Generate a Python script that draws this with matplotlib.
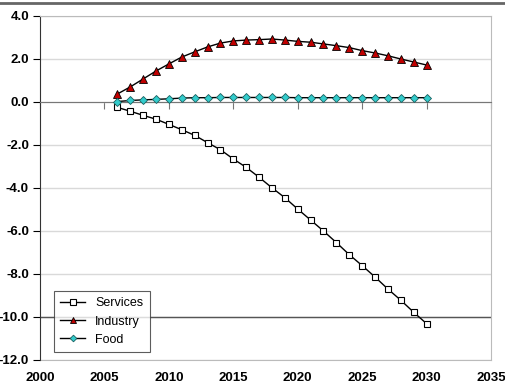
import numpy as np
import matplotlib.pyplot as plt
from matplotlib.lines import Line2D

plt.rcParams['font.family'] = ['Liberation Sans', 'DejaVu Sans']

years = np.arange(2006, 2031)
services = [-0.25, -0.43, -0.62, -0.80, -1.04, -1.29, -1.55, -1.89, -2.22, -2.65,
            -3.04, -3.50, -3.99, -4.45, -4.98, -5.49, -6.00, -6.54, -7.10, -7.61,
            -8.14, -8.70, -9.22, -9.78, -10.31]
industry = [0.37, 0.70, 1.07, 1.44, 1.77, 2.09, 2.33, 2.56, 2.74, 2.84,
            2.88, 2.90, 2.93, 2.88, 2.82, 2.78, 2.70, 2.62, 2.53, 2.39,
            2.28, 2.15, 2.00, 1.86, 1.72]
food = [0.02, 0.07, 0.10, 0.12, 0.15, 0.18, 0.20, 0.20, 0.21, 0.21,
        0.21, 0.21, 0.21, 0.21, 0.20, 0.20, 0.20, 0.20, 0.20, 0.20,
        0.20, 0.20, 0.20, 0.20, 0.20]
xticks = np.arange(2000, 2036, 5)
yticks = np.arange(-12, 4.1, 2)

fig = plt.figure(figsize=(5.05, 3.91), dpi=100)
ax = fig.add_axes([0.0792, 0.0793, 0.8931, 0.8798])

ax.plot(years, services, color='black', lw=1, marker='s', ms=4.6,
        mfc='white', mec='black', mew=0.8, label='Services', zorder=3)
ax.plot(years, industry, color='black', lw=1, marker='^', ms=5.8,
        mfc='#c00000', mec='black', mew=0.6, label='Industry', zorder=3)
ax.plot(years, food, color='black', lw=1, marker='D', ms=4.0,
        mfc='#33cccc', mec='#1a5f5f', mew=0.6, label='Food', zorder=3)

ax.set_xlim(2000, 2035)
ax.set_ylim(-12, 4)
ax.set_yticks(yticks)
ax.set_yticklabels(['%.1f' % v for v in yticks], fontsize=9.5, fontweight='bold')
ax.grid(axis='y', color='#d9d9d9', lw=1)
ax.axhline(-10, color='#555555', lw=1, zorder=1)
ax.set_axisbelow(True)

# x axis drawn at zero with ticks, labels on the bottom frame
ax.spines['bottom'].set_position(('data', 0))
ax.spines['bottom'].set_color('#777777')
ax.set_xticks(xticks)
ax.tick_params(axis='x', direction='out', length=5, color='#777777', labelbottom=False)
ax.tick_params(axis='y', direction='out', length=5, pad=3)
ax.spines['left'].set_color('#333333')
ax.spines['top'].set_color('#bbbbbb')
ax.spines['right'].set_color('#bbbbbb')

sec = ax.secondary_xaxis(0.0)
sec.set_xticks(xticks)
sec.set_xticklabels([str(v) for v in xticks], fontsize=9.5, fontweight='bold')
sec.tick_params(length=0, pad=9)
sec.spines['bottom'].set_color('#bbbbbb')

leg = ax.legend(loc='lower left', bbox_to_anchor=(0.031, 0.023), borderaxespad=0,
                fontsize=9, frameon=True, fancybox=False, edgecolor='#333333',
                borderpad=0.5, labelspacing=0.5, handlelength=2.0, markerscale=0.85)
leg.get_frame().set_linewidth(0.8)

fig.add_artist(Line2D([0, 1], [0.992, 0.992], transform=fig.transFigure,
                      color='#666666', lw=2))

fig.savefig('out.png', dpi=100)
